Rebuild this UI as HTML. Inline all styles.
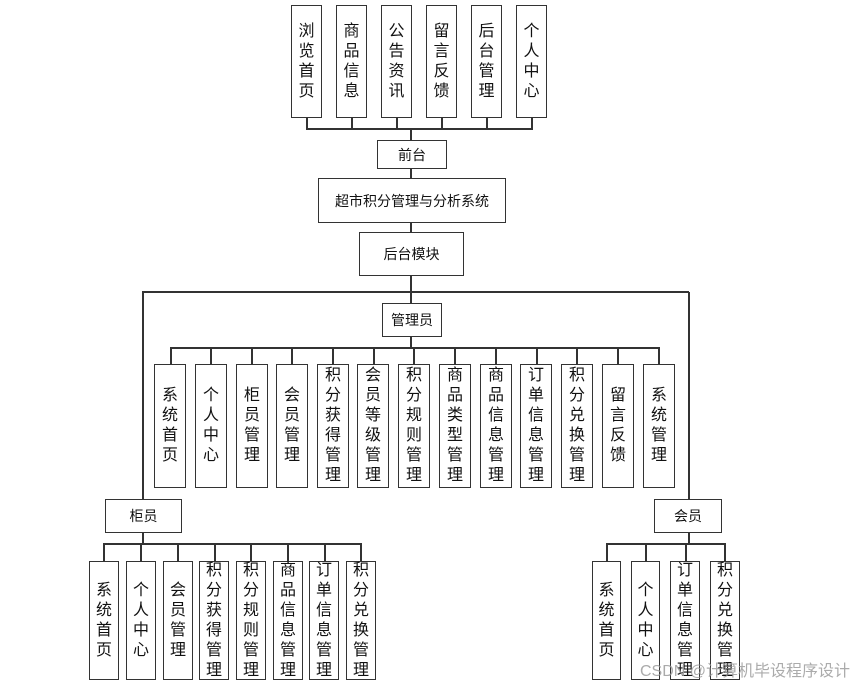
<!DOCTYPE html>
<html><head><meta charset="utf-8"><style>
body{margin:0;width:860px;height:684px;background:#fff;position:relative;overflow:hidden;font-family:"Liberation Sans","Noto Sans CJK SC",sans-serif;color:#111}
.b{position:absolute;border:1.5px solid #333;box-sizing:border-box;display:flex;align-items:center;justify-content:center;background:#fff;font-size:14px}
.v{position:absolute;width:1.5px;background:#333}
.h{position:absolute;height:1.5px;background:#333}
.t{width:16px;font-size:16px;line-height:20px;text-align:center;word-break:break-all}
.wm{position:absolute;left:640px;top:657px;font-size:16px;color:rgba(150,150,150,0.8);white-space:nowrap}
</style></head><body>
<!-- top -->
<div class="b" style="left:291px;top:5px;width:31px;height:113px"><span class="t">浏览首页</span></div>
<div class="b" style="left:336px;top:5px;width:31px;height:113px"><span class="t">商品信息</span></div>
<div class="b" style="left:381px;top:5px;width:31px;height:113px"><span class="t">公告资讯</span></div>
<div class="b" style="left:426px;top:5px;width:31px;height:113px"><span class="t">留言反馈</span></div>
<div class="b" style="left:471px;top:5px;width:31px;height:113px"><span class="t">后台管理</span></div>
<div class="b" style="left:516px;top:5px;width:31px;height:113px"><span class="t">个人中心</span></div>
<div class="v" style="left:306px;top:118px;height:11px"></div>
<div class="v" style="left:351px;top:118px;height:11px"></div>
<div class="v" style="left:396px;top:118px;height:11px"></div>
<div class="v" style="left:441px;top:118px;height:11px"></div>
<div class="v" style="left:486px;top:118px;height:11px"></div>
<div class="v" style="left:531px;top:118px;height:11px"></div>
<div class="h" style="left:306px;top:128px;width:227px"></div>
<div class="v" style="left:410px;top:128px;height:12px"></div>
<div class="b" style="left:377px;top:140px;width:70px;height:29px">前台</div>
<div class="v" style="left:410px;top:168px;height:10px"></div>
<div class="b" style="left:318px;top:178px;width:188px;height:45px">超市积分管理与分析系统</div>
<div class="v" style="left:410px;top:222px;height:10px"></div>
<div class="b" style="left:359px;top:232px;width:105px;height:44px">后台模块</div>
<div class="v" style="left:410px;top:275px;height:17px"></div>
<div class="h" style="left:142px;top:291px;width:547px"></div>
<!-- admin -->
<div class="v" style="left:410px;top:292px;height:11px"></div>
<div class="b" style="left:382px;top:303px;width:60px;height:34px">管理员</div>
<div class="v" style="left:410px;top:336px;height:12px"></div>
<div class="h" style="left:170px;top:347px;width:490px"></div>
<div class="v" style="left:170px;top:348px;height:16px"></div>
<div class="v" style="left:210px;top:348px;height:16px"></div>
<div class="v" style="left:251px;top:348px;height:16px"></div>
<div class="v" style="left:291px;top:348px;height:16px"></div>
<div class="v" style="left:332px;top:348px;height:16px"></div>
<div class="v" style="left:373px;top:348px;height:16px"></div>
<div class="v" style="left:413px;top:348px;height:16px"></div>
<div class="v" style="left:454px;top:348px;height:16px"></div>
<div class="v" style="left:495px;top:348px;height:16px"></div>
<div class="v" style="left:536px;top:348px;height:16px"></div>
<div class="v" style="left:576px;top:348px;height:16px"></div>
<div class="v" style="left:617px;top:348px;height:16px"></div>
<div class="v" style="left:658px;top:348px;height:16px"></div>
<div class="b" style="left:154px;top:364px;width:32px;height:124px"><span class="t">系统首页</span></div>
<div class="b" style="left:195px;top:364px;width:32px;height:124px"><span class="t">个人中心</span></div>
<div class="b" style="left:236px;top:364px;width:32px;height:124px"><span class="t">柜员管理</span></div>
<div class="b" style="left:276px;top:364px;width:32px;height:124px"><span class="t">会员管理</span></div>
<div class="b" style="left:317px;top:364px;width:32px;height:124px"><span class="t">积分获得管理</span></div>
<div class="b" style="left:357px;top:364px;width:32px;height:124px"><span class="t">会员等级管理</span></div>
<div class="b" style="left:398px;top:364px;width:32px;height:124px"><span class="t">积分规则管理</span></div>
<div class="b" style="left:439px;top:364px;width:32px;height:124px"><span class="t">商品类型管理</span></div>
<div class="b" style="left:480px;top:364px;width:32px;height:124px"><span class="t">商品信息管理</span></div>
<div class="b" style="left:520px;top:364px;width:32px;height:124px"><span class="t">订单信息管理</span></div>
<div class="b" style="left:561px;top:364px;width:32px;height:124px"><span class="t">积分兑换管理</span></div>
<div class="b" style="left:602px;top:364px;width:32px;height:124px"><span class="t">留言反馈</span></div>
<div class="b" style="left:643px;top:364px;width:32px;height:124px"><span class="t">系统管理</span></div>
<!-- cashier -->
<div class="v" style="left:142px;top:292px;height:207px"></div>
<div class="b" style="left:105px;top:499px;width:77px;height:34px">柜员</div>
<div class="v" style="left:142px;top:532px;height:12px"></div>
<div class="h" style="left:103px;top:543px;width:259px"></div>
<div class="v" style="left:103px;top:544px;height:17px"></div>
<div class="v" style="left:140px;top:544px;height:17px"></div>
<div class="v" style="left:177px;top:544px;height:17px"></div>
<div class="v" style="left:214px;top:544px;height:17px"></div>
<div class="v" style="left:250px;top:544px;height:17px"></div>
<div class="v" style="left:287px;top:544px;height:17px"></div>
<div class="v" style="left:324px;top:544px;height:17px"></div>
<div class="v" style="left:360px;top:544px;height:17px"></div>
<div class="b" style="left:89px;top:561px;width:30px;height:119px"><span class="t">系统首页</span></div>
<div class="b" style="left:126px;top:561px;width:30px;height:119px"><span class="t">个人中心</span></div>
<div class="b" style="left:163px;top:561px;width:30px;height:119px"><span class="t">会员管理</span></div>
<div class="b" style="left:199px;top:561px;width:30px;height:119px"><span class="t">积分获得管理</span></div>
<div class="b" style="left:236px;top:561px;width:30px;height:119px"><span class="t">积分规则管理</span></div>
<div class="b" style="left:273px;top:561px;width:30px;height:119px"><span class="t">商品信息管理</span></div>
<div class="b" style="left:309px;top:561px;width:30px;height:119px"><span class="t">订单信息管理</span></div>
<div class="b" style="left:346px;top:561px;width:30px;height:119px"><span class="t">积分兑换管理</span></div>
<!-- member -->
<div class="v" style="left:688px;top:292px;height:207px"></div>
<div class="b" style="left:654px;top:499px;width:68px;height:34px">会员</div>
<div class="v" style="left:688px;top:532px;height:12px"></div>
<div class="h" style="left:606px;top:543px;width:120px"></div>
<div class="v" style="left:606px;top:544px;height:17px"></div>
<div class="v" style="left:645px;top:544px;height:17px"></div>
<div class="v" style="left:685px;top:544px;height:17px"></div>
<div class="v" style="left:724px;top:544px;height:17px"></div>
<div class="b" style="left:592px;top:561px;width:29px;height:119px"><span class="t">系统首页</span></div>
<div class="b" style="left:631px;top:561px;width:29px;height:119px"><span class="t">个人中心</span></div>
<div class="b" style="left:670px;top:561px;width:30px;height:119px"><span class="t">订单信息管理</span></div>
<div class="b" style="left:710px;top:561px;width:30px;height:119px"><span class="t">积分兑换管理</span></div>
<div class="wm">CSDN @计算机毕设程序设计</div>
</body></html>
